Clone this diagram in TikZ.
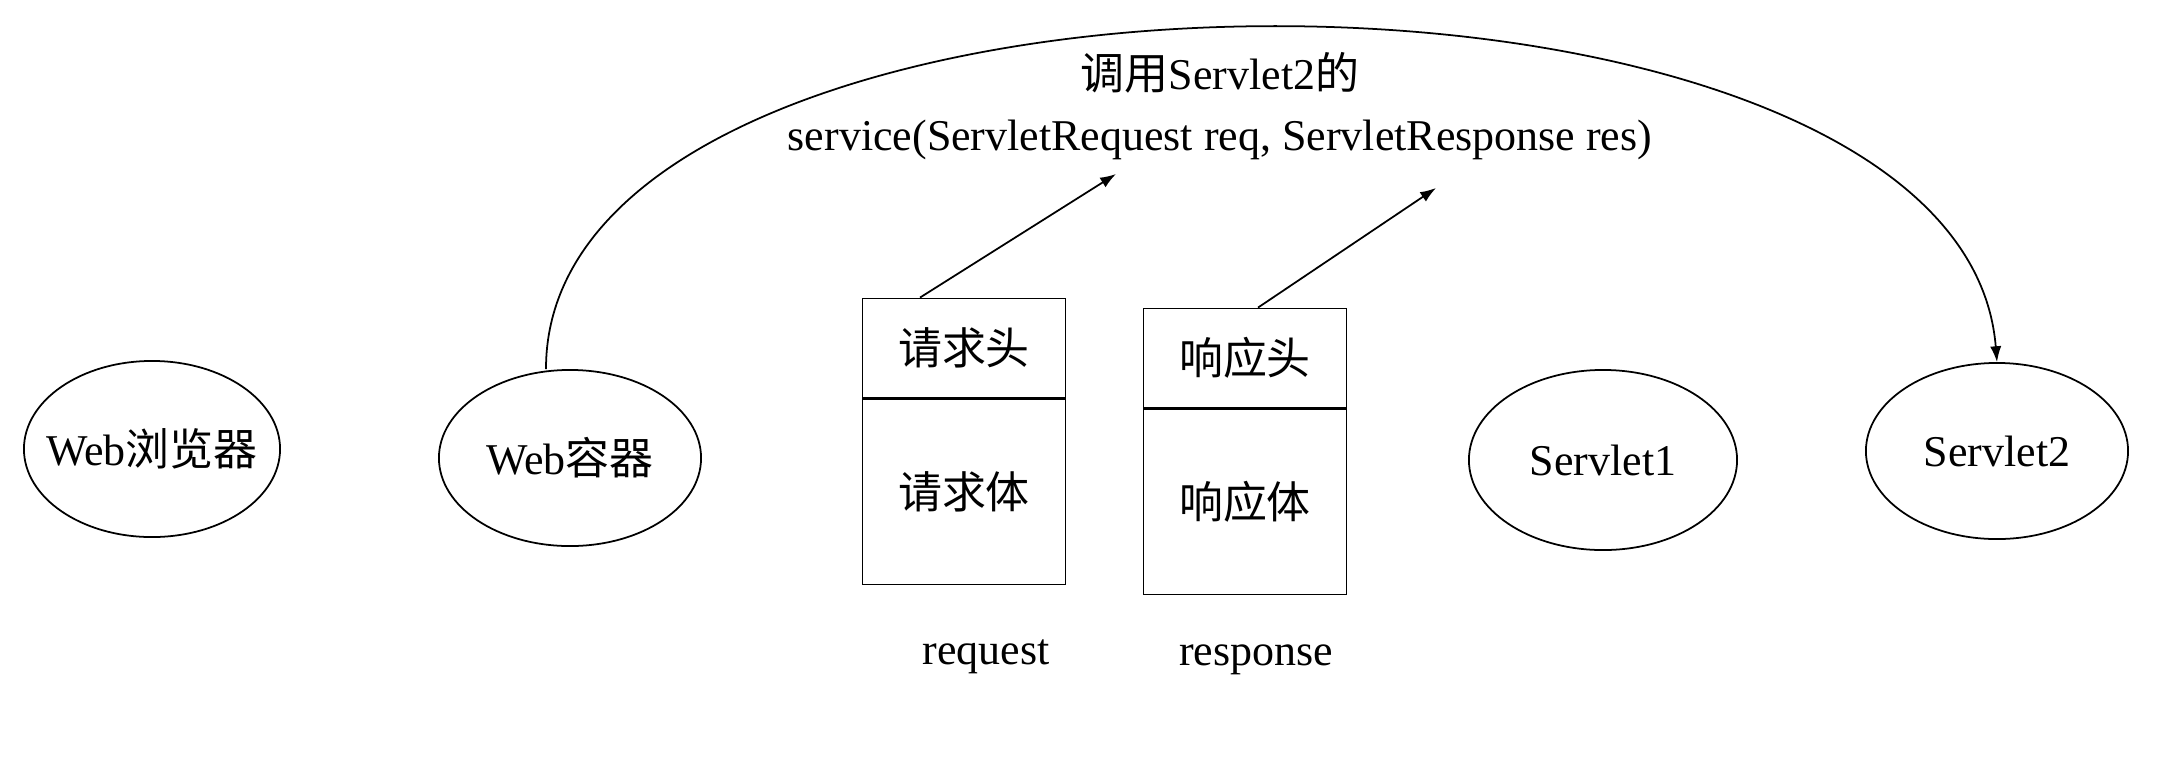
\documentclass[tikz,border=0pt]{standalone}
\usepackage{fontspec}
\setmainfont{Liberation Serif}
\newfontfamily\cjk{Noto Sans CJK SC}
\usepackage{tikz}
\usetikzlibrary{shapes.geometric,arrows.meta}

\begin{document}
\begin{tikzpicture}[x=0.01cm,y=0.01cm,line width=0.5pt]
\tikzset{every node/.style={font=\fontsize{12.5}{15}\selectfont},
         oval/.style={draw,ellipse,inner sep=0pt,inner xsep=-0.25cm,minimum width=2.62cm,minimum height=1.76cm},
         head/.style={draw,rectangle,inner sep=0pt,minimum width=2.03cm,minimum height=0.99cm},
         body/.style={draw,rectangle,inner sep=0pt,minimum width=2.03cm,minimum height=1.85cm},
         arr/.style={-{Latex[length=4.5pt,width=3.2pt]}}}
\useasboundingbox (0,0) rectangle (2168,756);
\node[oval,minimum width=2.56cm] (browser) at (152,307) {Web{\cjk 浏览器}};
\node[oval] (cont) at (570,298) {Web{\cjk 容器}};
\node[oval,minimum width=2.68cm,minimum height=1.8cm] (srv1) at (1603,296) {Servlet1};
\node[oval] (srv2) at (1997,305) {Servlet2};
\node[head] (reqhead) at (964,408) {\cjk 请求头};
\node[body,anchor=north] (reqbody) at (reqhead.south) {\cjk 请求体};
\node[head] (resphead) at (1245,398) {\cjk 响应头};
\node[body,anchor=north] (respbody) at (resphead.south) {\cjk 响应体};
\node (req) at (986,99) {request};
\node (resp) at (1256,96) {response};
\node (call) at (1220,683) {{\cjk 调用}Servlet2{\cjk 的}};
\node (sig) at (1220,616) {service(ServletRequest req, ServletResponse res)};
\coordinate (reqtip) at (1116,582);
\coordinate (resptip) at (1436,568);
\draw[arr] ([xshift=-0.44cm]reqhead.north) -- (reqtip);
\draw[arr] ([xshift=0.13cm]resphead.north) -- (resptip);
\draw[arr] ([xshift=-0.24cm]cont.north) .. controls +(0,450) and +(-36,450) .. (srv2.north);
\end{tikzpicture}
\end{document}
